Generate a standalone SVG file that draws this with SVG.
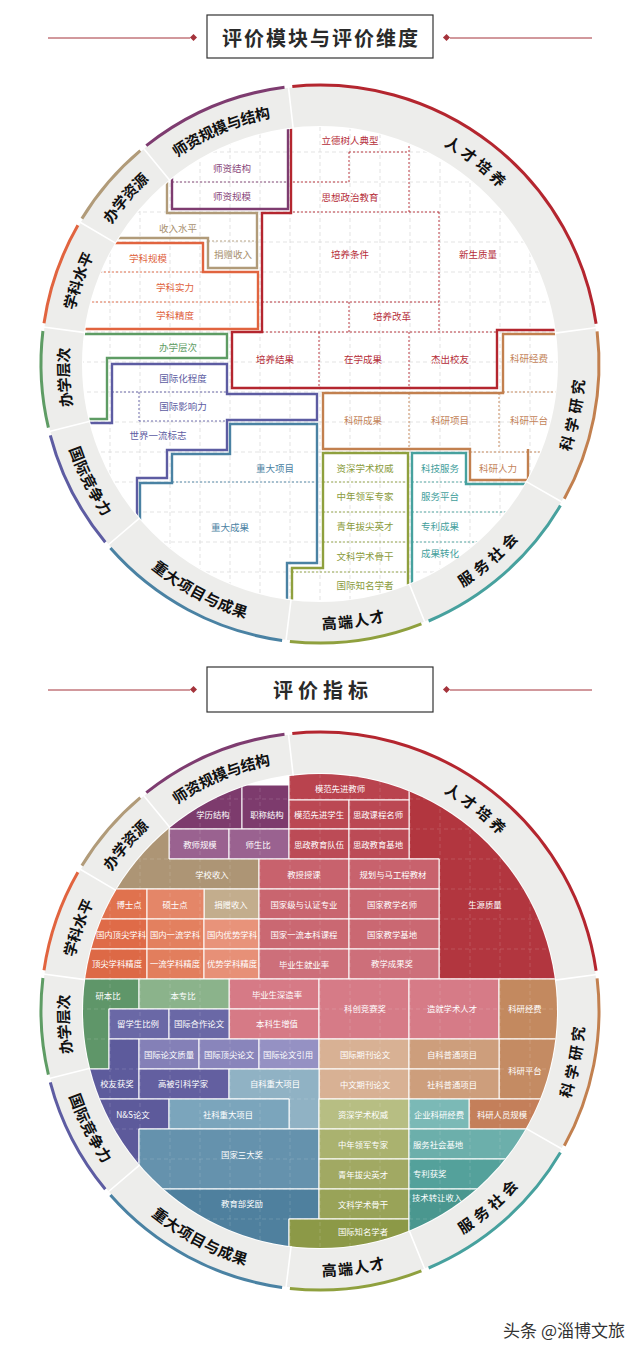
<svg xmlns="http://www.w3.org/2000/svg" width="640" height="1351" viewBox="0 0 640 1351">
<style>
text{font-family:"Noto Sans CJK SC","Noto Sans",sans-serif}
.grid{stroke:#dcdcdc;stroke-width:0.8;stroke-dasharray:4 3;fill:none}
.gridw{stroke:#ffffff;stroke-opacity:0.14;stroke-width:0.8;stroke-dasharray:4 3;fill:none}
.ol{fill:none;stroke-width:2.4}
.dt{fill:none;stroke-width:0.9;stroke-dasharray:2 2}
.lb{font-size:9.5px;text-anchor:middle;dominant-baseline:central}
.wl{font-size:8.4px;fill:#fff;text-anchor:middle;dominant-baseline:central}
.ws{font-size:8.4px;fill:#fff;text-anchor:start;dominant-baseline:central}
.ring{fill:none;stroke:#ededeb;stroke-width:40}
.sep{stroke:#fff;stroke-width:1.6}
.arc{fill:none;stroke-width:3}
.rl{font-size:15px;font-weight:700;fill:#111;text-anchor:middle;dominant-baseline:central}
.sp{letter-spacing:4px}
.cells rect,.cells path{stroke:#fff;stroke-width:1}
.pu{stroke:#7e3c70}.tpu{fill:#8a4a7c}
.rd{stroke:#b4262f}.trd{fill:#b52d38}
.tn{stroke:#b19b79}.ttn{fill:#a89170}
.or{stroke:#e1643f}.tor{fill:#e0643f}
.gn{stroke:#5e9c64}.tgn{fill:#5e9c64}
.in{stroke:#5d5ca2}.tin{fill:#5d5ca2}
.st{stroke:#4a82a3}.tst{fill:#4a82a3}
.ol2{stroke:#8fa03e}.tol{fill:#8a9b3c}
.tl{stroke:#47a19e}.ttl{fill:#43a09c}
.br{stroke:#c2804f}.tbr{fill:#c4845a}
.hline{stroke:#a4333b;stroke-width:1}
.htitle{font-size:20px;font-weight:700;fill:#2a2a2a;text-anchor:middle;dominant-baseline:central}
</style>
<defs>
<clipPath id="clipT"><circle cx="320" cy="364" r="237"/></clipPath>
<clipPath id="clipB"><circle cx="320" cy="1011" r="237"/></clipPath>
<path id="rp1" d="M35.9,-255.5 A258,258 0 0 1 239.2,-96.6"/>
<path id="rp2" d="M194.7,169.3 A258,258 0 0 0 243.9,-84.0"/>
<path id="rp3" d="M49.2,253.3 A258,258 0 0 0 243.9,84.0"/>
<path id="rp4" d="M-98.7,238.4 A258,258 0 0 0 157.1,204.7"/>
<path id="rp5" d="M-218.8,136.7 A258,258 0 0 0 9.0,257.8"/>
<path id="rp6" d="M-257.6,-13.5 A258,258 0 0 0 -140.5,216.4"/>
<path id="rp7" d="M-216.4,140.5 A258,258 0 0 1 -229.9,-117.1"/>
<path id="rp8" d="M-253.3,49.2 A258,258 0 0 1 -169.3,-194.7"/>
<path id="rp9" d="M-253.7,-47.0 A258,258 0 0 1 -86.1,-243.2"/>
<path id="rp10" d="M-206.0,-155.3 A258,258 0 0 1 31.4,-256.1"/>
</defs>
<rect width="640" height="1351" fill="#fff"/>

<!-- Header 1 -->
<g id="header-1">
<line class="hline" x1="48" y1="38" x2="190" y2="38"/>
<line class="hline" x1="450" y1="38" x2="592" y2="38"/>
<rect x="191" y="35" width="5" height="5" fill="#a4333b" transform="rotate(45 193.5 37.5)"/>
<rect x="444" y="35" width="5" height="5" fill="#a4333b" transform="rotate(45 446.5 37.5)"/>
<rect x="207" y="15" width="226" height="43" fill="#fff" stroke="#333" stroke-width="1.2"/>
<text class="htitle" x="321" y="37" letter-spacing="2">评价模块与评价维度</text>
</g>

<!-- Top diagram -->
<g id="top-diagram">
<g id="top-grid" clip-path="url(#clipT)">
<path class="grid" d="M80,120V610M110,120V610M140,120V610M170,120V610M200,120V610M230,120V610M260,120V610M290,120V610M320,120V610M350,120V610M380,120V610M410,120V610M440,120V610M470,120V610M500,120V610M530,120V610M560,120V610M80,122H560M80,152H560M80,182H560M80,212H560M80,242H560M80,272H560M80,302H560M80,332H560M80,362H560M80,392H560M80,422H560M80,452H560M80,482H560M80,512H560M80,542H560M80,572H560M80,602H560"/>
</g>
<g id="top-ring" transform="translate(320,364)">
<circle r="258" class="ring"/>
<path class="sep" d="M-26.8,-235.5L-31.8,-279.2M235.0,-30.9L278.6,-36.7M205.9,117.4L244.1,139.2M89.2,219.6L105.7,260.3M-28.9,235.2L-34.3,278.9M-180.2,153.9L-213.7,182.5M-230.0,57.3L-272.7,68.0M-234.9,-31.4L-278.5,-37.2M-204.0,-120.6L-241.9,-143.0M-150.1,-183.4L-178.0,-217.4"/>
</g>

<g id="top-talent">
<g clip-path="url(#clipT)">
<polyline class="ol rd" points="291,100 291,213 262,213 262,332 232,332 232,388 497,388 497,330 600,330"/>
<path class="dt rd" d="M349,152H409M349,152V182M293,182H349M409,110V212M293,212H439M439,212V332M262,302H439M349,302V332M262,332H497M319,332V388M409,332V388"/>
</g>
<text class="lb trd" x="350" y="140">立德树人典型</text>
<text class="lb trd" x="350" y="197">思想政治教育</text>
<text class="lb trd" x="350" y="254">培养条件</text>
<text class="lb trd" x="478" y="254">新生质量</text>
<text class="lb trd" x="392" y="316">培养改革</text>
<text class="lb trd" x="275" y="359">培养结果</text>
<text class="lb trd" x="363" y="359">在学成果</text>
<text class="lb trd" x="450" y="359">杰出校友</text>
<g transform="translate(320,364)">
<path class="arc rd" d="M-27.7,-277.6 A279,279 0 0 1 276.1,-40.3"/>
<text class="rl sp"><textPath href="#rp1" startOffset="50%">人才培养</textPath></text>
</g>
</g>

<g id="top-faculty">
<g clip-path="url(#clipT)">
<polyline class="ol pu" points="172,100 172,209 288,209 288,100"/>
<path class="dt pu" d="M172,182H288"/>
</g>
<text class="lb tpu" x="232" y="168">师资结构</text>
<text class="lb tpu" x="232" y="196">师资规模</text>
<g transform="translate(320,364)">
<path class="arc pu" d="M-173.7,-218.3 A279,279 0 0 1 -35.5,-276.7"/>
<text class="rl"><textPath href="#rp10" startOffset="50%">师资规模与结构</textPath></text>
</g>
</g>

<g id="top-resources">
<g clip-path="url(#clipT)">
<polyline class="ol tn" points="167,120 167,213 257,213 257,268 208,268 208,238 60,238"/>
<path class="dt tn" d="M208,241H257"/>
</g>
<text class="lb ttn" x="178" y="228">收入水平</text>
<text class="lb ttn" x="233" y="254">捐赠收入</text>
<g transform="translate(320,364)">
<path class="arc tn" d="M-238.1,-145.4 A279,279 0 0 1 -179.7,-213.4"/>
<text class="rl"><textPath href="#rp9" startOffset="50%">办学资源</textPath></text>
</g>
</g>

<g id="top-discipline">
<g clip-path="url(#clipT)">
<polyline class="ol or" points="60,243 203,243 203,272 258,272 258,329 60,329"/>
<path class="dt or" d="M60,272H203M60,302H258"/>
</g>
<text class="lb tor" x="148" y="258">学科规模</text>
<text class="lb tor" x="175" y="287">学科实力</text>
<text class="lb tor" x="175" y="315">学科精度</text>
<g transform="translate(320,364)">
<path class="arc or" d="M-276.0,-40.8 A279,279 0 0 1 -242.1,-138.7"/>
<text class="rl"><textPath href="#rp8" startOffset="50%">学科水平</textPath></text>
</g>
</g>

<g id="top-level">
<g clip-path="url(#clipT)">
<polyline class="ol gn" points="60,334 227,334 227,358 107,358 107,419 60,419"/>
</g>
<text class="lb tgn" x="178" y="347">办学层次</text>
<g transform="translate(320,364)">
<path class="arc gn" d="M-271.6,63.7 A279,279 0 0 1 -277.1,-33.0"/>
<text class="rl"><textPath href="#rp7" startOffset="50%">办学层次</textPath></text>
</g>
</g>

<g id="top-intl">
<g clip-path="url(#clipT)">
<polyline class="ol in" points="60,423 112,423 112,364 227,364 227,394 317,394 317,420 227,420 227,450 167,450 167,478 137,478 137,620"/>
<path class="dt in" d="M112,392H227M139,392V421M139,421H227"/>
</g>
<text class="lb tin" x="183" y="378">国际化程度</text>
<text class="lb tin" x="183" y="406">国际影响力</text>
<text class="lb tin" x="158" y="435">世界一流标志</text>
<g transform="translate(320,364)">
<path class="arc in" d="M-214.7,178.2 A279,279 0 0 1 -269.7,71.3"/>
<text class="rl"><textPath href="#rp6" startOffset="50%">国际竞争力</textPath></text>
</g>
</g>

<g id="top-major">
<g clip-path="url(#clipT)">
<polyline class="ol st" points="140,620 140,483 172,483 172,454 230,454 230,424 317,424 317,563 287,563 287,640"/>
<path class="dt st" d="M172,482H317"/>
</g>
<text class="lb tst" x="275" y="468">重大项目</text>
<text class="lb tst" x="230" y="527">重大成果</text>
<g transform="translate(320,364)">
<path class="arc st" d="M-37.9,276.4 A279,279 0 0 1 -209.6,184.1"/>
<text class="rl"><textPath href="#rp5" startOffset="50%">重大项目与成果</textPath></text>
</g>
</g>

<g id="top-elite">
<g clip-path="url(#clipT)">
<polyline class="ol ol2" points="292,640 292,568 323,568 323,453 408,453 408,640"/>
<path class="dt ol2" d="M323,482H408M323,512H408M323,542H408M292,572H408"/>
</g>
<text class="lb tol" x="365" y="468">资深学术权威</text>
<text class="lb tol" x="365" y="496">中年领军专家</text>
<text class="lb tol" x="365" y="526">青年拔尖英才</text>
<text class="lb tol" x="365" y="556">文科学术骨干</text>
<text class="lb tol" x="365" y="585">国际知名学者</text>
<g transform="translate(320,364)">
<path class="arc ol2" d="M101.4,259.9 A279,279 0 0 1 -30.1,277.4"/>
<text class="rl" letter-spacing="1"><textPath href="#rp4" startOffset="50%">高端人才</textPath></text>
</g>
</g>

<g id="top-service">
<g clip-path="url(#clipT)">
<polyline class="ol tl" points="412,640 412,453 466,453 466,484 600,484"/>
<path class="dt tl" d="M412,482H466M412,512H600M412,542H600"/>
</g>
<text class="lb ttl" x="440" y="468">科技服务</text>
<text class="lb ttl" x="440" y="496">服务平台</text>
<text class="lb ttl" x="440" y="526">专利成果</text>
<text class="lb ttl" x="440" y="553">成果转化</text>
<g transform="translate(320,364)">
<path class="arc tl" d="M240.4,141.6 A279,279 0 0 1 108.6,257.0"/>
<text class="rl sp"><textPath href="#rp3" startOffset="50%">服务社会</textPath></text>
</g>
</g>

<g id="top-research">
<g clip-path="url(#clipT)">
<polyline class="ol br" points="600,334 503,334 503,393 323,393 323,449 470,449 470,480 600,480"/>
<path class="ol br" d="M528,449V480"/>
<path class="dt br" d="M503,392H600M409,393V449M499,393V449M470,452H600"/>
</g>
<text class="lb tbr" x="529" y="358">科研经费</text>
<text class="lb tbr" x="363" y="420">科研成果</text>
<text class="lb tbr" x="450" y="420">科研项目</text>
<text class="lb tbr" x="529" y="420">科研平台</text>
<text class="lb tbr" x="498" y="468">科研人力</text>
<g transform="translate(320,364)">
<path class="arc br" d="M277.1,-32.6 A279,279 0 0 1 244.3,134.8"/>
<text class="rl sp"><textPath href="#rp2" startOffset="50%">科学研究</textPath></text>
</g>
</g>
</g>

<!-- Header 2 -->
<g id="header-2">
<line class="hline" x1="48" y1="690" x2="190" y2="690"/>
<line class="hline" x1="450" y1="690" x2="592" y2="690"/>
<rect x="191" y="687" width="5" height="5" fill="#a4333b" transform="rotate(45 193.5 689.5)"/>
<rect x="444" y="687" width="5" height="5" fill="#a4333b" transform="rotate(45 446.5 689.5)"/>
<rect x="207" y="667" width="226" height="45" fill="#fff" stroke="#333" stroke-width="1.2"/>
<text class="htitle" x="323" y="689" letter-spacing="5">评价指标</text>
</g>

<!-- Bottom diagram -->
<g id="bottom-diagram">
<g id="bottom-cells" class="cells" clip-path="url(#clipB)">
<g id="b-faculty">
<rect x="169" y="785" width="73" height="44" fill="#7d3b6d"/>
<rect x="242" y="785" width="47" height="44" fill="#7d3b6d"/>
<rect x="169" y="829" width="60" height="30" fill="#9a6290"/>
<rect x="229" y="829" width="60" height="30" fill="#9a6290"/>
</g>
<g id="b-resources">
<path d="M0,700H169V859H259V889H0Z" fill="#ad9575"/>
<rect x="204" y="889" width="55" height="30" fill="#c3ad8d"/>
</g>
<g id="b-discipline">
<rect x="0" y="889" width="147" height="30" fill="#e0724e"/>
<rect x="147" y="889" width="57" height="30" fill="#e48668"/>
<rect x="0" y="919" width="147" height="30" fill="#df6b48"/>
<rect x="147" y="919" width="57" height="30" fill="#e3805f"/>
<rect x="204" y="919" width="55" height="30" fill="#e8937a"/>
<rect x="0" y="949" width="147" height="30" fill="#dd6946"/>
<rect x="147" y="949" width="57" height="30" fill="#e27e5d"/>
<rect x="204" y="949" width="55" height="30" fill="#e79077"/>
</g>
<g id="b-talent">
<path d="M409,700H700V979H439V859H409Z" fill="#b2363f"/>
<rect x="289" y="740" width="120" height="60" fill="#b9434e"/>
<rect x="289" y="800" width="60" height="29" fill="#bb4853"/>
<rect x="349" y="800" width="60" height="29" fill="#bb4853"/>
<rect x="289" y="829" width="60" height="30" fill="#bc4b56"/>
<rect x="349" y="829" width="60" height="30" fill="#bc4b56"/>
<rect x="259" y="859" width="90" height="30" fill="#c8626d"/>
<rect x="349" y="859" width="90" height="30" fill="#c8626d"/>
<rect x="259" y="889" width="90" height="30" fill="#c9656f"/>
<rect x="349" y="889" width="90" height="30" fill="#c9656f"/>
<rect x="259" y="919" width="90" height="30" fill="#ca6872"/>
<rect x="349" y="919" width="90" height="30" fill="#ca6872"/>
<rect x="259" y="949" width="90" height="30" fill="#cd6f7a"/>
<rect x="349" y="949" width="90" height="30" fill="#cd6f7a"/>
<rect x="229" y="979" width="90" height="30" fill="#d67a86"/>
<rect x="229" y="1009" width="90" height="30" fill="#d67a86"/>
<rect x="319" y="979" width="90" height="60" fill="#d67b87"/>
<rect x="409" y="979" width="90" height="60" fill="#d67b87"/>
</g>
<g id="b-level">
<path d="M0,979H139V1009H109V1069H0Z" fill="#5f9669"/>
<rect x="139" y="979" width="90" height="30" fill="#8bb38b"/>
</g>
<g id="b-intl">
<rect x="109" y="1009" width="60" height="30" fill="#6a68a6"/>
<rect x="169" y="1009" width="60" height="30" fill="#6a68a6"/>
<path d="M109,1039H139V1099H0V1069H109Z" fill="#5d5b9c"/>
<rect x="139" y="1039" width="60" height="30" fill="#8480b7"/>
<rect x="199" y="1039" width="60" height="30" fill="#8985bb"/>
<rect x="259" y="1039" width="60" height="30" fill="#9591c3"/>
<rect x="139" y="1069" width="90" height="30" fill="#635fa0"/>
<path d="M0,1099H169V1129H139V1300H0Z" fill="#5d5a9b"/>
</g>
<g id="b-research">
<rect x="499" y="979" width="201" height="60" fill="#c3895f"/>
<rect x="499" y="1039" width="201" height="60" fill="#c48b63"/>
<rect x="319" y="1039" width="90" height="30" fill="#d8b194"/>
<rect x="409" y="1039" width="90" height="30" fill="#cd9e7c"/>
<rect x="319" y="1069" width="90" height="30" fill="#d8b194"/>
<rect x="409" y="1069" width="90" height="30" fill="#cd9e7c"/>
<rect x="469" y="1099" width="231" height="30" fill="#c47f5a"/>
</g>
<g id="b-major">
<path d="M229,1069H319V1129H289V1099H229Z" fill="#90b2c4"/>
<rect x="169" y="1099" width="120" height="30" fill="#7ba5bc"/>
<rect x="139" y="1129" width="180" height="60" fill="#6592ad"/>
<path d="M0,1189H319V1219H289V1300H0Z" fill="#4f809e"/>
</g>
<g id="b-elite">
<rect x="319" y="1099" width="90" height="30" fill="#b7be83"/>
<rect x="319" y="1129" width="90" height="30" fill="#aab26f"/>
<rect x="319" y="1159" width="90" height="30" fill="#a1a963"/>
<rect x="319" y="1189" width="90" height="30" fill="#99a358"/>
<rect x="289" y="1219" width="120" height="81" fill="#8c9947"/>
</g>
<g id="b-service">
<rect x="409" y="1099" width="60" height="30" fill="#7bb9b6"/>
<rect x="409" y="1129" width="291" height="30" fill="#6cafab"/>
<rect x="409" y="1159" width="291" height="30" fill="#54a19b"/>
<rect x="409" y="1189" width="291" height="111" fill="#4a978f"/>
</g>
<path class="gridw" d="M80,760V1260M110,760V1260M140,760V1260M170,760V1260M200,760V1260M230,760V1260M260,760V1260M290,760V1260M320,760V1260M350,760V1260M380,760V1260M410,760V1260M440,760V1260M470,760V1260M500,760V1260M530,760V1260M560,760V1260M80,769H560M80,799H560M80,829H560M80,859H560M80,889H560M80,919H560M80,949H560M80,979H560M80,1009H560M80,1039H560M80,1069H560M80,1099H560M80,1129H560M80,1159H560M80,1189H560M80,1219H560M80,1249H560"/>
</g>

<g id="bottom-labels">
<text class="wl" x="213" y="814">学历结构</text>
<text class="wl" x="267" y="814">职称结构</text>
<text class="wl" x="200" y="844">教师规模</text>
<text class="wl" x="258" y="844">师生比</text>
<text class="wl" x="212" y="874">学校收入</text>
<text class="wl" x="129" y="904">博士点</text>
<text class="wl" x="175" y="904">硕士点</text>
<text class="wl" x="231" y="904">捐赠收入</text>
<text class="wl" x="340" y="788">模范先进教师</text>
<text class="wl" x="319" y="814">模范先进学生</text>
<text class="wl" x="378" y="814">思政课程名师</text>
<text class="wl" x="319" y="844">思政教育队伍</text>
<text class="wl" x="378" y="844">思政教育基地</text>
<text class="wl" x="304" y="874">教授授课</text>
<text class="wl" x="393" y="874">规划与马工程教材</text>
<text class="wl" x="304" y="904">国家级与认证专业</text>
<text class="wl" x="392" y="904">国家教学名师</text>
<text class="wl" x="485" y="904">生源质量</text>
<text class="wl" x="121" y="934">国内顶尖学科</text>
<text class="wl" x="175" y="934">国内一流学科</text>
<text class="wl" x="232" y="934">国内优势学科</text>
<text class="wl" x="304" y="934">国家一流本科课程</text>
<text class="wl" x="392" y="934">国家教学基地</text>
<text class="wl" x="117" y="963">顶尖学科精度</text>
<text class="wl" x="175" y="963">一流学科精度</text>
<text class="wl" x="232" y="963">优势学科精度</text>
<text class="wl" x="304" y="964">毕业生就业率</text>
<text class="wl" x="392" y="963">教学成果奖</text>
<text class="wl" x="108" y="995">研本比</text>
<text class="wl" x="183" y="995">本专比</text>
<text class="wl" x="277" y="994">毕业生深造率</text>
<text class="wl" x="365" y="1008">科创竞赛奖</text>
<text class="wl" x="452" y="1008">造就学术人才</text>
<text class="wl" x="525" y="1008">科研经费</text>
<text class="wl" x="138" y="1023">留学生比例</text>
<text class="wl" x="199" y="1023">国际合作论文</text>
<text class="wl" x="277" y="1023">本科生增值</text>
<text class="wl" x="169" y="1054">国际论文质量</text>
<text class="wl" x="229" y="1054">国际顶尖论文</text>
<text class="wl" x="288" y="1054">国际论文引用</text>
<text class="wl" x="365" y="1054">国际期刊论文</text>
<text class="wl" x="452" y="1054">自科普通项目</text>
<text class="wl" x="525" y="1070">科研平台</text>
<text class="wl" x="117" y="1083">校友获奖</text>
<text class="wl" x="183" y="1083">高被引科学家</text>
<text class="wl" x="275" y="1083">自科重大项目</text>
<text class="wl" x="365" y="1084">中文期刊论文</text>
<text class="wl" x="452" y="1084">社科普通项目</text>
<text class="wl" x="133" y="1114">N&amp;S论文</text>
<text class="wl" x="228" y="1114">社科重大项目</text>
<text class="wl" x="363" y="1114">资深学术权威</text>
<text class="wl" x="439" y="1114">企业科研经费</text>
<text class="wl" x="502" y="1114">科研人员规模</text>
<text class="wl" x="242" y="1154">国家三大奖</text>
<text class="wl" x="363" y="1144">中年领军专家</text>
<text class="ws" x="413" y="1144">服务社会基地</text>
<text class="wl" x="363" y="1174">青年拔尖英才</text>
<text class="ws" x="413" y="1173">专利获奖</text>
<text class="wl" x="242" y="1203">教育部奖励</text>
<text class="wl" x="363" y="1204">文科学术骨干</text>
<text class="ws" x="412" y="1197">技术转让收入</text>
<text class="wl" x="363" y="1231">国际知名学者</text>
</g>

<g id="bottom-ring" transform="translate(320,1011)">
<circle r="258" class="ring"/>
<path class="sep" d="M-26.8,-235.5L-31.8,-279.2M235.0,-30.9L278.6,-36.7M205.9,117.4L244.1,139.2M89.2,219.6L105.7,260.3M-28.9,235.2L-34.3,278.9M-180.2,153.9L-213.7,182.5M-230.0,57.3L-272.7,68.0M-234.9,-31.4L-278.5,-37.2M-204.0,-120.6L-241.9,-143.0M-150.1,-183.4L-178.0,-217.4"/>
<g id="b-ring-talent"><path class="arc rd" d="M-27.7,-277.6 A279,279 0 0 1 276.1,-40.3"/><text class="rl sp"><textPath href="#rp1" startOffset="50%">人才培养</textPath></text></g>
<g id="b-ring-research"><path class="arc br" d="M277.1,-32.6 A279,279 0 0 1 244.3,134.8"/><text class="rl sp"><textPath href="#rp2" startOffset="50%">科学研究</textPath></text></g>
<g id="b-ring-service"><path class="arc tl" d="M240.4,141.6 A279,279 0 0 1 108.6,257.0"/><text class="rl sp"><textPath href="#rp3" startOffset="50%">服务社会</textPath></text></g>
<g id="b-ring-elite"><path class="arc ol2" d="M101.4,259.9 A279,279 0 0 1 -30.1,277.4"/><text class="rl" letter-spacing="1"><textPath href="#rp4" startOffset="50%">高端人才</textPath></text></g>
<g id="b-ring-major"><path class="arc st" d="M-37.9,276.4 A279,279 0 0 1 -209.6,184.1"/><text class="rl"><textPath href="#rp5" startOffset="50%">重大项目与成果</textPath></text></g>
<g id="b-ring-intl"><path class="arc in" d="M-214.7,178.2 A279,279 0 0 1 -269.7,71.3"/><text class="rl"><textPath href="#rp6" startOffset="50%">国际竞争力</textPath></text></g>
<g id="b-ring-level"><path class="arc gn" d="M-271.6,63.7 A279,279 0 0 1 -277.1,-33.0"/><text class="rl"><textPath href="#rp7" startOffset="50%">办学层次</textPath></text></g>
<g id="b-ring-discipline"><path class="arc or" d="M-276.0,-40.8 A279,279 0 0 1 -242.1,-138.7"/><text class="rl"><textPath href="#rp8" startOffset="50%">学科水平</textPath></text></g>
<g id="b-ring-resources"><path class="arc tn" d="M-238.1,-145.4 A279,279 0 0 1 -179.7,-213.4"/><text class="rl"><textPath href="#rp9" startOffset="50%">办学资源</textPath></text></g>
<g id="b-ring-faculty"><path class="arc pu" d="M-173.7,-218.3 A279,279 0 0 1 -35.5,-276.7"/><text class="rl"><textPath href="#rp10" startOffset="50%">师资规模与结构</textPath></text></g>
</g>
</g>

<g id="watermark">
<text x="625" y="1329" font-size="17" fill="#333" stroke="#fff" stroke-width="0.6" paint-order="stroke" text-anchor="end" dominant-baseline="central">头条 @淄博文旅</text>
</g>
</svg>
